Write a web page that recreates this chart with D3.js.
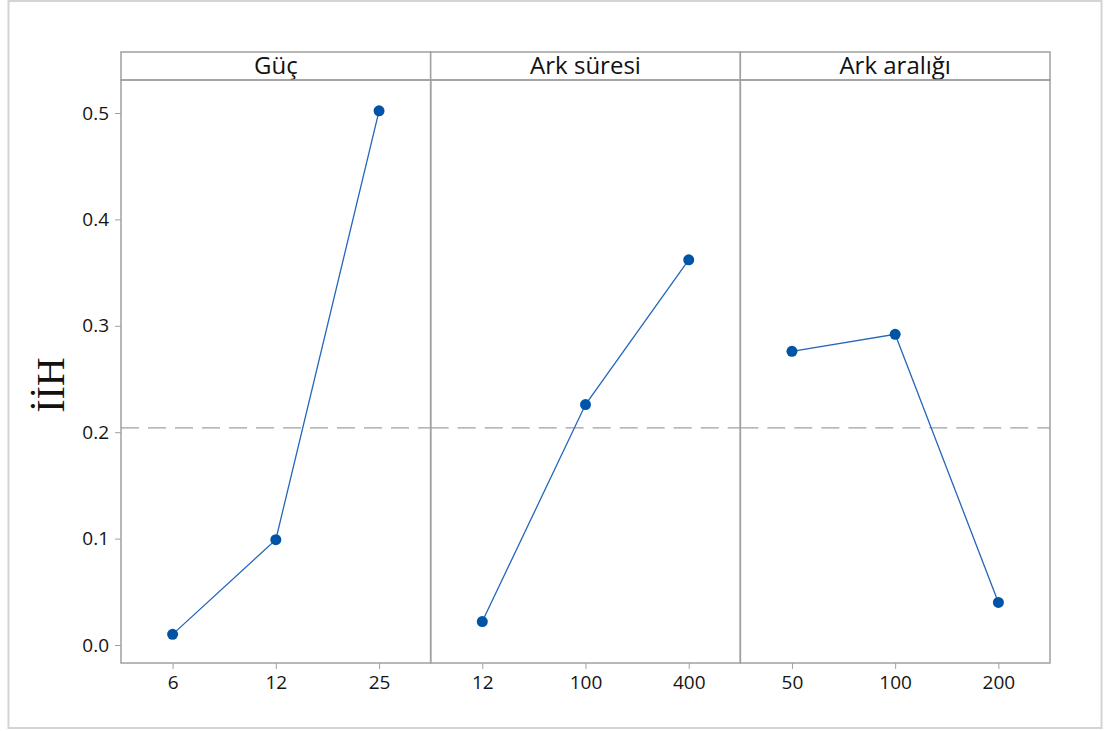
<!DOCTYPE html>
<html>
<head>
    <title>Ana Etkiler</title>
    <style>
        html, body { margin: 0; padding: 0; background: #ffffff; overflow: hidden; }
        text { font-family: "Open Sans", "Noto Sans", sans-serif; }
    </style>
</head>
<body>
    <div id="container"></div>
    <script src="https://d3js.org/d3.v7.min.js"></script>
    <script>
        // factors and their levels
        var panels = ["Güç", "Ark süresi", "Ark aralığı"];
        var levels = [["6", "12", "25"], ["12", "100", "400"], ["50", "100", "200"]];
        var means = [[0.010, 0.099, 0.502], [0.022, 0.226, 0.362], [0.276, 0.292, 0.040]];
        var yTicks = [0.0, 0.1, 0.2, 0.3, 0.4, 0.5];
        var grandMean = 0.204;

        var width = 1105, height = 731;
        var plotLeft = 121, plotRight = 1050, plotTop = 52, headH = 28, plotBottom = 663;
        var panelW = (plotRight - plotLeft) / panels.length;

        var svg = d3.select("#container").append("svg")
            .attr("width", width)
            .attr("height", height);

        // outer frame
        svg.append("rect")
            .attr("x", 8.5).attr("y", 1)
            .attr("width", 1093).attr("height", 727)
            .style("fill", "#fff")
            .style("stroke", "#d4d4d4")
            .style("stroke-width", 2);

        var y = d3.scaleLinear().domain([0, 0.5]).range([645, 113]);

        // y axis
        var yAxis = svg.append("g")
            .attr("transform", "translate(" + plotLeft + ",0)")
            .call(d3.axisLeft(y).tickValues(yTicks).tickFormat(d3.format(".1f")).tickSize(6).tickPadding(6));
        yAxis.select(".domain").remove();
        yAxis.attr("font-size", 19).attr("font-family", "'Open Sans', sans-serif");
        yAxis.selectAll(".tick line").style("stroke", "#a0a0a0");
        yAxis.selectAll(".tick text").style("fill", "#141414");

        svg.append("text")
            .attr("transform", "translate(64,385) rotate(-90)")
            .attr("text-anchor", "middle")
            .style("font-family", "'Liberation Serif', 'DejaVu Serif', serif")
            .style("font-size", "40px")
            .style("fill", "#111")
            .text("İİH");

        panels.forEach(function (name, i) {
            var x0 = plotLeft + i * panelW;
            var x = d3.scalePoint().domain(levels[i]).range([x0, x0 + panelW]).padding(0.5);
            var g = svg.append("g");

            // header strip
            g.append("rect")
                .attr("x", x0).attr("y", plotTop)
                .attr("width", panelW).attr("height", headH)
                .style("fill", "#fff").style("stroke", "#a0a0a0").style("stroke-width", 1.5);
            g.append("text")
                .attr("x", x0 + panelW / 2).attr("y", plotTop + 22)
                .attr("text-anchor", "middle")
                .attr("font-size", 24)
                .style("fill", "#111")
                .text(name);

            // panel body
            g.append("rect")
                .attr("x", x0).attr("y", plotTop + headH)
                .attr("width", panelW).attr("height", plotBottom - plotTop - headH)
                .style("fill", "none").style("stroke", "#a0a0a0").style("stroke-width", 1.5);

            // reference line at overall mean
            g.append("line")
                .attr("x1", x0).attr("x2", x0 + panelW)
                .attr("y1", y(grandMean)).attr("y2", y(grandMean))
                .style("stroke", "#a0a0a0").style("stroke-width", 1.2)
                .style("stroke-dasharray", "18,9");

            var xAxis = g.append("g")
                .attr("transform", "translate(0," + plotBottom + ")")
                .call(d3.axisBottom(x).tickSize(6).tickPadding(7));
            xAxis.select(".domain").remove();
            xAxis.attr("font-size", 19).attr("font-family", "'Open Sans', sans-serif");
            xAxis.selectAll(".tick line").style("stroke", "#a0a0a0");
            xAxis.selectAll(".tick text").style("fill", "#141414");

            var pts = levels[i].map(function (l, j) { return [x(l), y(means[i][j])]; });
            g.append("path")
                .attr("d", d3.line()(pts))
                .style("fill", "none").style("stroke", "#2366bb").style("stroke-width", 1.3);
            g.selectAll("circle").data(pts).enter().append("circle")
                .attr("cx", function (d) { return d[0]; })
                .attr("cy", function (d) { return d[1]; })
                .attr("r", 5.5)
                .style("fill", "#0054a6");
        });
    </script>
</body>
</html>
